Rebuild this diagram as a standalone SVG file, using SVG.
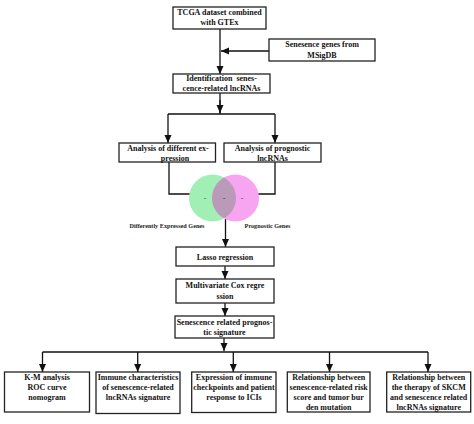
<svg xmlns="http://www.w3.org/2000/svg" width="474" height="424" viewBox="0 0 474 424">
<style>
.box{fill:#fff;stroke:#222;stroke-width:1.3}
.t{font-family:"Liberation Serif","Times New Roman",serif;font-weight:bold;font-size:8px;fill:#111;text-anchor:middle}
.v{font-family:"Liberation Serif","Times New Roman",serif;font-weight:bold;font-size:6.2px;fill:#222;text-anchor:middle}
.ln{fill:none;stroke:#111;stroke-width:1.3}
</style>
<defs>
<marker id="ah" markerUnits="userSpaceOnUse" markerWidth="8" markerHeight="8" viewBox="0 0 8 8" refX="8" refY="4" orient="auto">
<path d="M0,0.5 L8,4 L0,7.5 Z" fill="#111"/>
</marker>
<clipPath id="gc"><circle cx="212.5" cy="198" r="23.5"/></clipPath>
</defs>
<rect width="474" height="424" fill="#fff"/>
<g id="connectors">
<path class="ln" d="M220,29 V74" marker-end="url(#ah)"/>
<path class="ln" d="M269,51 H221" marker-end="url(#ah)"/>
<path class="ln" d="M220,93 V114"/>
<path class="ln" d="M220,100 V113" marker-end="url(#ah)"/>
<path class="ln" d="M168,114 H275"/>
<path class="ln" d="M168,114 V143" marker-end="url(#ah)"/>
<path class="ln" d="M275,114 V143" marker-end="url(#ah)"/>
<path class="ln" d="M169,162 V194 H190"/>
<path class="ln" d="M275,162 V194 H258"/>
<path class="ln" d="M225.5,219 V247" marker-end="url(#ah)"/>
<path class="ln" d="M225,266 V279" marker-end="url(#ah)"/>
<path class="ln" d="M225,303 V316" marker-end="url(#ah)"/>
<path class="ln" d="M224,338 V351" marker-end="url(#ah)"/>
<path class="ln" d="M42.5,352 H428"/>
<path class="ln" d="M42.5,352 V372" marker-end="url(#ah)"/>
<path class="ln" d="M137.7,352 V372" marker-end="url(#ah)"/>
<path class="ln" d="M233.3,352 V372" marker-end="url(#ah)"/>
<path class="ln" d="M329.5,352 V372" marker-end="url(#ah)"/>
<path class="ln" d="M428,352 V372" marker-end="url(#ah)"/>
</g>
<g id="n_tcga">
<rect class="box" x="173" y="7" width="93" height="22"/>
<text class="t" x="219.5" y="15">TCGA dataset combined</text>
<text class="t" x="219.5" y="25">with GTEx</text>
</g>
<g id="n_msigdb">
<rect class="box" x="269" y="39" width="106" height="22"/>
<text class="t" x="322" y="47">Senesence genes from</text>
<text class="t" x="322" y="57.5">MSigDB</text>
</g>
<g id="n_ident">
<rect class="box" x="173" y="74" width="97" height="19"/>
<text class="t" x="221.5" y="80.5" xml:space="preserve">Identification  senes-</text>
<text class="t" x="221.5" y="90.5">cence-related lncRNAs</text>
</g>
<g id="n_diff">
<rect class="box" x="119" y="143" width="96.5" height="19"/>
<text class="t" x="168" y="150.5">Analysis of different ex-</text>
<text class="t" x="175" y="160.5">pression</text>
</g>
<g id="n_prog">
<rect class="box" x="224" y="143" width="97" height="19"/>
<text class="t" x="272.5" y="150.5">Analysis of prognostic</text>
<text class="t" x="272.5" y="160.5">lncRNAs</text>
</g>
<g id="n_venn">
<circle cx="212.5" cy="198" r="23.5" fill="#a2efb5"/>
<circle cx="235.5" cy="198" r="23.5" fill="#f7a4f1"/>
<circle cx="235.5" cy="198" r="23.5" fill="#b99ab8" clip-path="url(#gc)"/>
<text class="v" x="205" y="200" font-size="5">-</text>
<text class="v" x="224" y="200" font-size="5">-</text>
<text class="v" x="242" y="200" font-size="5">-</text>
<text class="v" x="167" y="228">Differently Expressed Genes</text>
<text class="v" x="267.5" y="228">Prognostic Genes</text>
</g>
<g id="n_lasso">
<rect class="box" x="176" y="247" width="98" height="19"/>
<text class="t" x="225" y="260">Lasso regression</text>
</g>
<g id="n_cox">
<rect class="box" x="176" y="279" width="98" height="24"/>
<text class="t" x="225" y="288">Multivariate Cox regre</text>
<text class="t" x="225" y="299">ssion</text>
</g>
<g id="n_sig">
<rect class="box" x="175" y="316" width="99" height="22"/>
<text class="t" x="224.5" y="325">Senescence related prognos-</text>
<text class="t" x="224.5" y="335">tic signature</text>
</g>
<g id="n_km">
<rect class="box" x="4.5" y="372" width="85" height="40"/>
<text class="t" x="47" y="380">K-M analysis</text>
<text class="t" x="47" y="390">ROC curve</text>
<text class="t" x="47" y="400">nomogram</text>
</g>
<g id="n_immune">
<rect class="box" x="96" y="372" width="84" height="41.5"/>
<text class="t" x="138" y="380">Immune characteristics</text>
<text class="t" x="138" y="390">of senescence-related</text>
<text class="t" x="138" y="400">lncRNAs signature</text>
</g>
<g id="n_expr">
<rect class="box" x="191.7" y="372" width="84.3" height="40.5"/>
<text class="t" x="234" y="380">Expression of immune</text>
<text class="t" x="234" y="390">checkpoints and patient</text>
<text class="t" x="234" y="400">response to ICIs</text>
</g>
<g id="n_tmb">
<rect class="box" x="287.3" y="372" width="82.7" height="40"/>
<text class="t" x="328.7" y="380">Relationship between</text>
<text class="t" x="328.7" y="390">senescence-related risk</text>
<text class="t" x="328.7" y="400">score and tumor bur</text>
<text class="t" x="328.7" y="410">den mutation</text>
</g>
<g id="n_therapy">
<rect class="box" x="386.7" y="372" width="84" height="40"/>
<text class="t" x="428.7" y="380">Relationship between</text>
<text class="t" x="428.7" y="390">the therapy of SKCM</text>
<text class="t" x="428.7" y="400">and senescence related</text>
<text class="t" x="428.7" y="410">lncRNAs signature</text>
</g>
</svg>
